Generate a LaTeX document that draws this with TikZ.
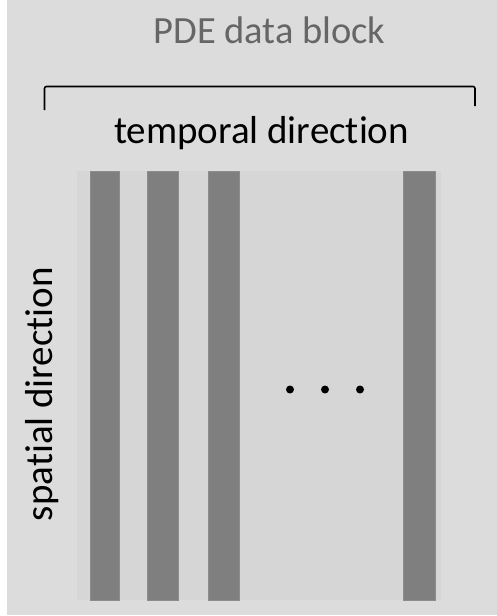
\documentclass[tikz,border=0pt]{standalone}
\usepackage{fontspec}
\setmainfont{Carlito}[Ligatures=CommonOff]
\definecolor{panelgray}{HTML}{DCDCDC}
\definecolor{blockgray}{HTML}{D6D6D6}
\definecolor{bargray}{HTML}{7F7F7F}
\definecolor{baredge}{HTML}{8C8C8C}
\definecolor{titlegray}{HTML}{666666}
\begin{document}
\begin{tikzpicture}[x=1pt, y=-1pt,
    label text/.style={inner sep=0pt, anchor=base},
    column/.style={fill=bargray, draw=baredge, line width=0.6pt}]
      \useasboundingbox (0,0) rectangle (497,616);

      % panel background color
      \fill[panelgray] (7,0) rectangle (497,615);

      % title of the panel
      \node[label text, text=titlegray, font=\fontsize{38.5}{44}\selectfont] (title) at (269.5,43) {PDE data block};

      % bracket over the block
      \coordinate (BL) at (44.5,110);
      \coordinate (BR) at (475,106);
      \draw[line width=1.6pt, rounded corners=2pt] (BL) -- (44.5,86.5) -- (475,86.5) -- (BR);

      % label of the temporal axis
      \node[label text, font=\fontsize{39}{44}\selectfont] (temporal) at (261.5,143) {temporal direction};

      % data block background color
      \fill[blockgray] (77,171) rectangle (441,600);

      % snapshot columns
      \foreach \x/\w in {90/29, 147/31, 208/31, 403/32}
        \draw[column] (\x,171) rectangle ++(\w,429);

      % dots for the columns left out
      \foreach \x in {290,325,360}
        \fill (\x,389.5) circle (4);

      % label of the spatial axis
      \node[label text, rotate=90, font=\fontsize{39}{44}\selectfont] (spatial) at (52,394) {spatial direction};

\end{tikzpicture}
\end{document}
